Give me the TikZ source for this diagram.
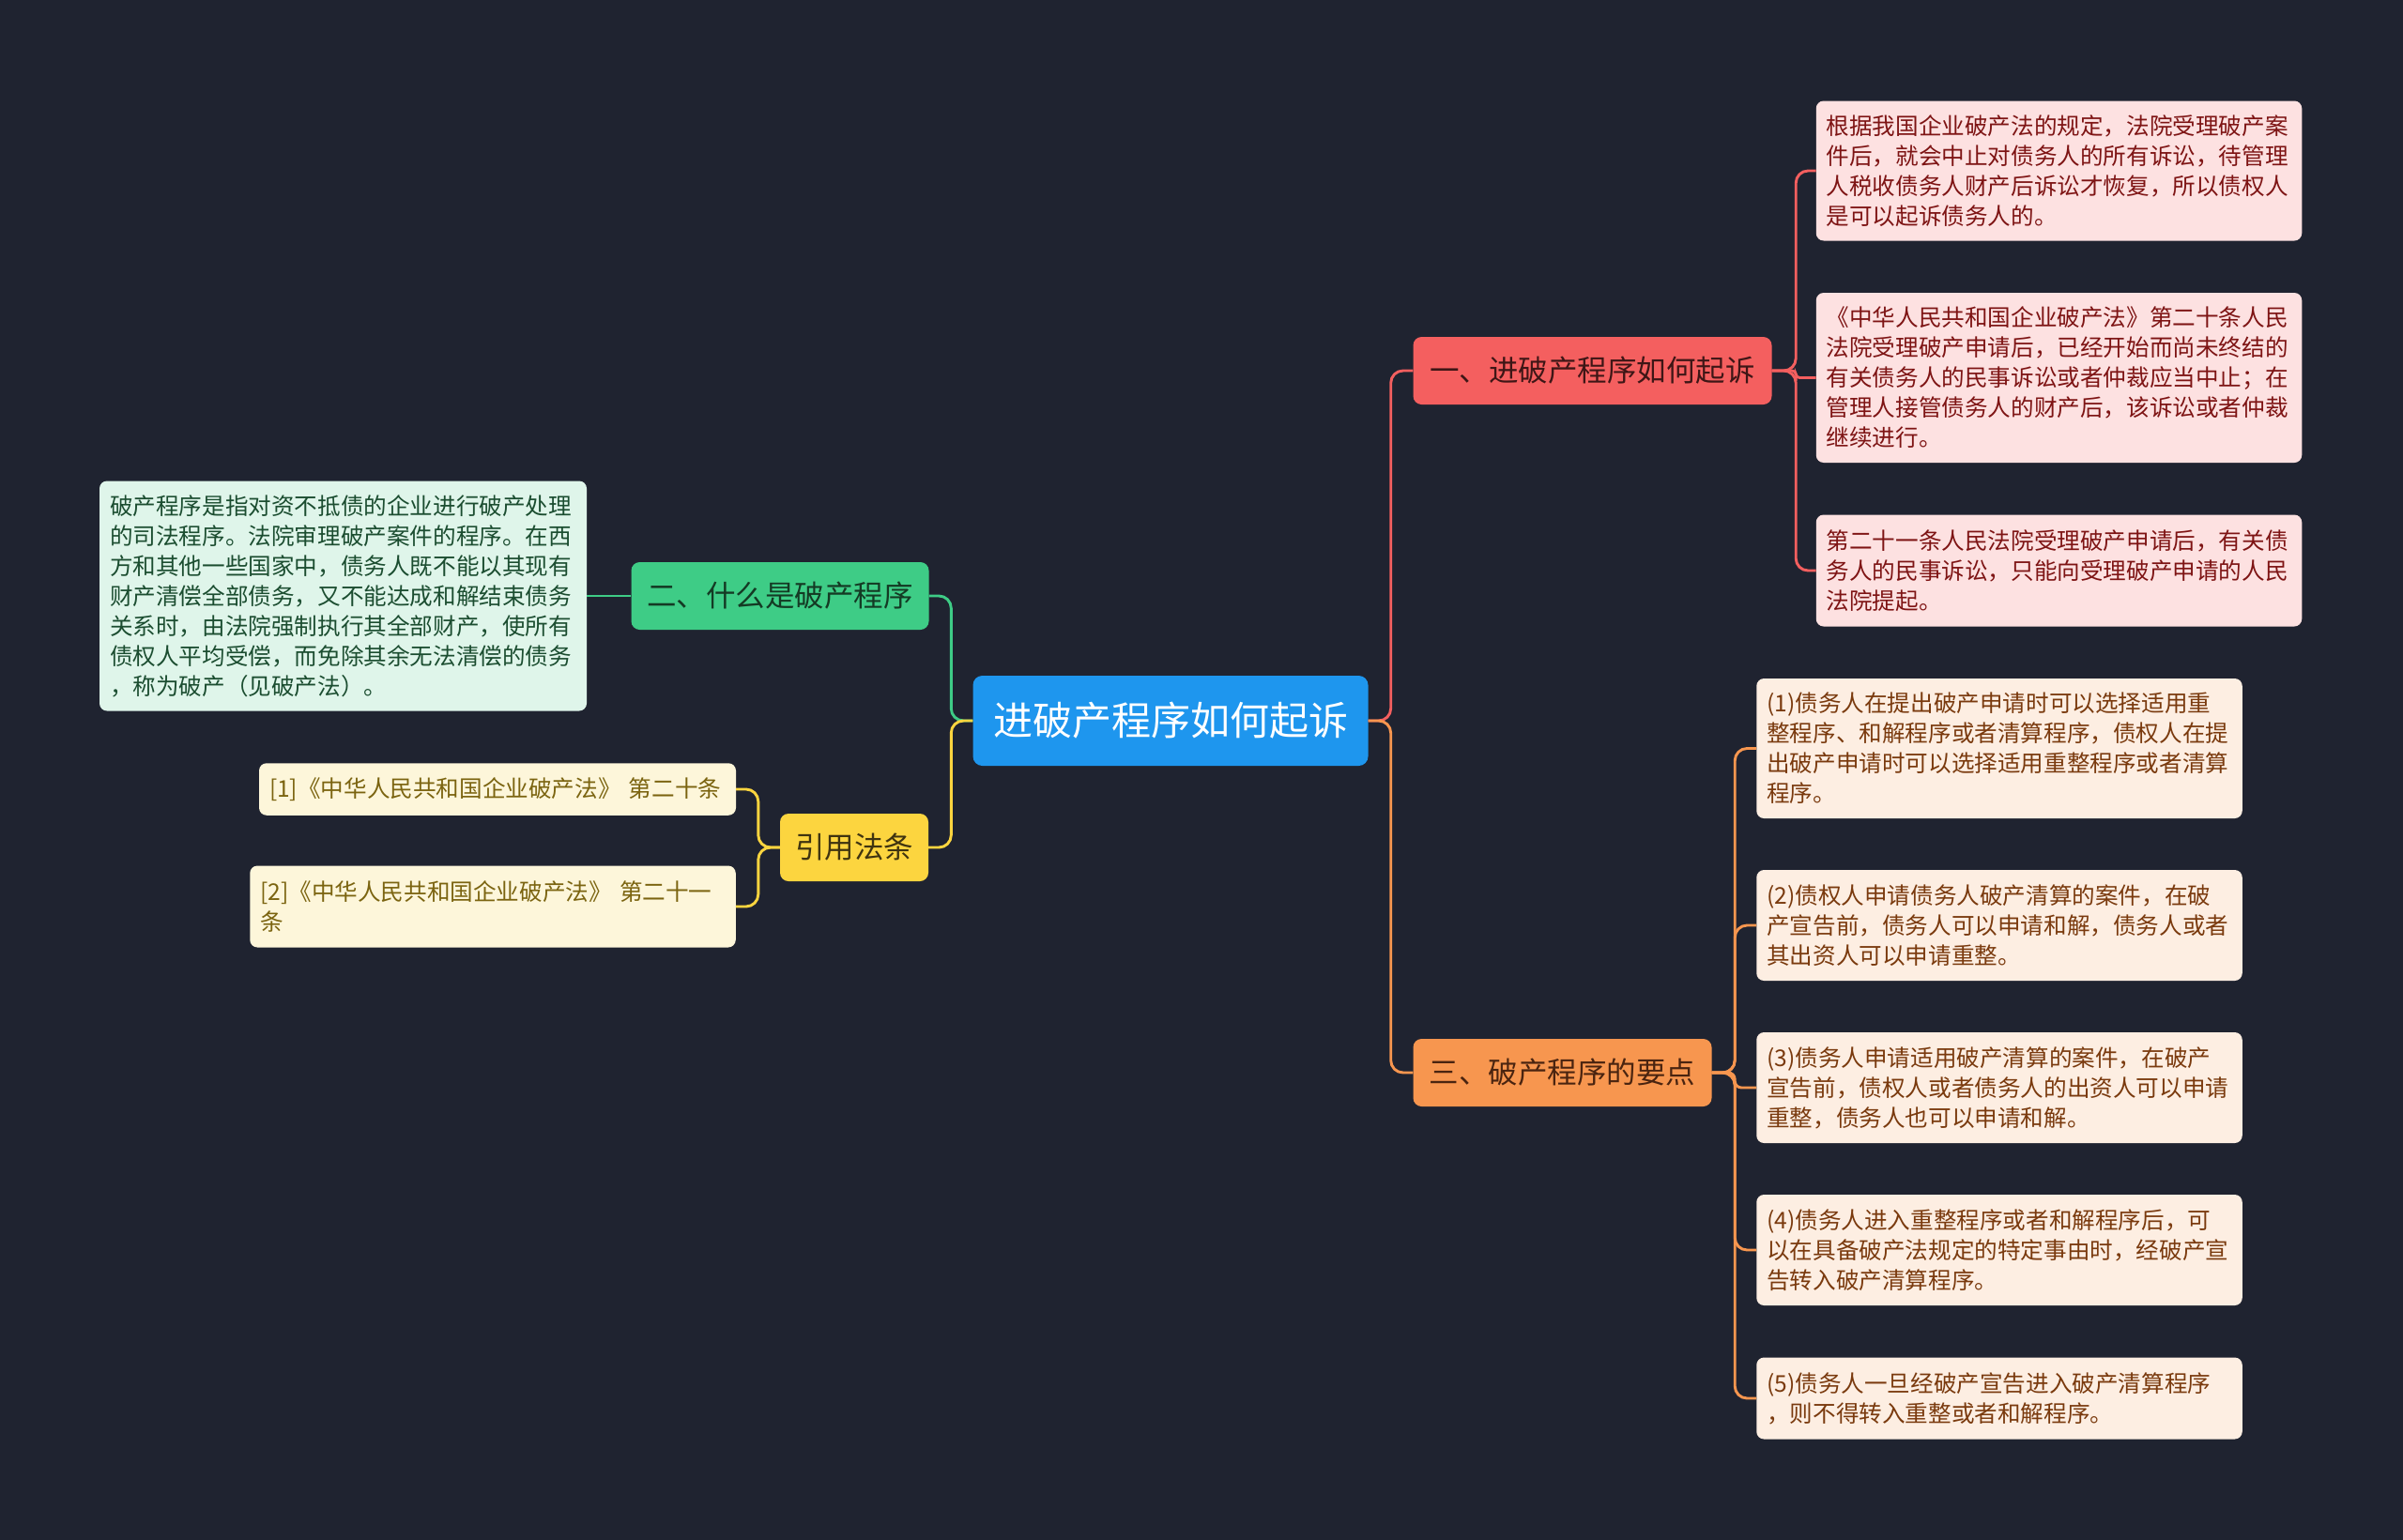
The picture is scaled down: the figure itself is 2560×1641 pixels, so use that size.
\documentclass[tikz,border=0pt]{standalone}
\usepackage{fontspec}
\setmainfont{Noto Sans CJK SC}
\definecolor{bg}{HTML}{1F2330}
\definecolor{rootc}{HTML}{1E96EE}
\definecolor{redc}{HTML}{F45F5F}
\definecolor{redleaf}{HTML}{FDE1E1}
\definecolor{redtext}{HTML}{7E1414}
\definecolor{redbtext}{HTML}{3E1616}
\definecolor{orc}{HTML}{F7964F}
\definecolor{orleaf}{HTML}{FDEEE2}
\definecolor{ortext}{HTML}{7A3A0E}
\definecolor{orbtext}{HTML}{4A2410}
\definecolor{grc}{HTML}{3ECC86}
\definecolor{grleaf}{HTML}{DFF5EA}
\definecolor{grtext}{HTML}{1B4D30}
\definecolor{grbtext}{HTML}{143A24}
\definecolor{yec}{HTML}{FCD53F}
\definecolor{yeleaf}{HTML}{FDF6DA}
\definecolor{yetext}{HTML}{7B6410}
\definecolor{yebtext}{HTML}{3F3410}
\begin{document}
\begin{tikzpicture}[x=1pt,y=-1pt,
  rootbox/.style={fill=rootc, text=white, rounded corners=10pt, inner sep=0pt,
    font=\fontsize{42}{48}\selectfont},
  branchbox/.style={rounded corners=9pt, inner sep=0pt, minimum height=72pt,
    font=\fontsize{31.5}{38}\selectfont},
  leafbox/.style={rounded corners=8pt, inner xsep=11pt, inner ysep=0pt, align=left,
    font=\fontsize{24.6}{32}\selectfont},
  conn/.style={line width=2.9pt, rounded corners=13pt}
]
\useasboundingbox (0,0) rectangle (2560,1641);
\fill[bg] (0,0) rectangle (2560,1641);

% root
\node[rootbox, minimum width=421pt, minimum height=96pt] (root) at (1247,768) {进破产程序如何起诉};

% branches
\node[branchbox, fill=redc, text=redbtext, minimum width=382pt] (b1) at (1696.5,395) {一、进破产程序如何起诉};
\node[branchbox, fill=orc, text=orbtext, minimum width=318pt] (b3) at (1664.5,1143) {三、破产程序的要点};
\node[branchbox, fill=grc, text=grbtext, minimum width=317pt] (b2) at (831,635) {二、什么是破产程序};
\node[branchbox, fill=yec, text=yebtext, minimum width=158pt] (b4) at (910,903) {引用法条};

% red leaves
\node[leafbox, fill=redleaf, text=redtext, text width=495.5pt, minimum height=149pt] (r1) at (2193.5,182) {根据我国企业破产法的规定，法院受理破产案\\件后，就会中止对债务人的所有诉讼，待管理\\人税收债务人财产后诉讼才恢复，所以债权人\\是可以起诉债务人的。};
\node[leafbox, fill=redleaf, text=redtext, text width=495.5pt, minimum height=181pt] (r2) at (2193.5,402.5) {《中华人民共和国企业破产法》第二十条人民\\法院受理破产申请后，已经开始而尚未终结的\\有关债务人的民事诉讼或者仲裁应当中止；在\\管理人接管债务人的财产后，该诉讼或者仲裁\\继续进行。};
\node[leafbox, fill=redleaf, text=redtext, text width=495.5pt, minimum height=119pt] (r3) at (2193.5,608) {第二十一条人民法院受理破产申请后，有关债\\务人的民事诉讼，只能向受理破产申请的人民\\法院提起。};

% orange leaves
\node[leafbox, fill=orleaf, text=ortext, text width=495.5pt, minimum height=149pt] (o1) at (2130,797.5) {(1)债务人在提出破产申请时可以选择适用重\\整程序、和解程序或者清算程序，债权人在提\\出破产申请时可以选择适用重整程序或者清算\\程序。};
\node[leafbox, fill=orleaf, text=ortext, text width=495.5pt, minimum height=118pt] (o2) at (2130,986) {(2)债权人申请债务人破产清算的案件，在破\\产宣告前，债务人可以申请和解，债务人或者\\其出资人可以申请重整。};
\node[leafbox, fill=orleaf, text=ortext, text width=495.5pt, minimum height=118pt] (o3) at (2130,1159) {(3)债务人申请适用破产清算的案件，在破产\\宣告前，债权人或者债务人的出资人可以申请\\重整，债务人也可以申请和解。};
\node[leafbox, fill=orleaf, text=ortext, text width=495.5pt, minimum height=118pt] (o4) at (2130,1332) {(4)债务人进入重整程序或者和解程序后，可\\以在具备破产法规定的特定事由时，经破产宣\\告转入破产清算程序。};
\node[leafbox, fill=orleaf, text=ortext, text width=495.5pt, minimum height=87pt] (o5) at (2130,1490) {(5)债务人一旦经破产宣告进入破产清算程序\\，则不得转入重整或者和解程序。};

% green leaf
\node[leafbox, fill=grleaf, text=grtext, text width=497pt, minimum height=245pt] (g1) at (365.5,635) {破产程序是指对资不抵债的企业进行破产处理\\的司法程序。法院审理破产案件的程序。在西\\方和其他一些国家中，债务人既不能以其现有\\财产清偿全部债务，又不能达成和解结束债务\\关系时，由法院强制执行其全部财产，使所有\\债权人平均受偿，而免除其余无法清偿的债务\\，称为破产（见破产法）。};

% yellow leaves
\node[leafbox, fill=yeleaf, text=yetext, text width=486pt, minimum height=55.5pt] (y1) at (530,841) {[1]《中华人民共和国企业破产法》~第二十条};
\node[leafbox, fill=yeleaf, text=yetext, text width=495.5pt, minimum height=87pt] (y2) at (525,966) {[2]《中华人民共和国企业破产法》~第二十一\\条};

% connectors root -> branches
\draw[conn, draw=redc] (root.east) -- ++(24,0) |- (b1.west);
\draw[conn, draw=orc] (root.east) -- ++(24,0) |- (b3.west);
\draw[conn, draw=grc] (root.west) -- ++(-23,0) |- (b2.east);
\draw[conn, draw=yec] (root.west) -- ++(-23,0) |- (b4.east);

% branch -> leaves
\foreach \n in {r1,r3} \draw[conn, draw=redc] (b1.east) -- ++(25.5,0) |- (\n.west);
\draw[conn, draw=redc, rounded corners=4pt] (b1.east) -- ++(25.5,0) |- (r2.west);
\foreach \n in {o1,o2,o4,o5} \draw[conn, draw=orc] (b3.east) -- ++(24.5,0) |- (\n.west);
\draw[conn, draw=orc, rounded corners=7pt] (b3.east) -- ++(24.5,0) |- (o3.west);
\draw[conn, draw=grc] (b2.west) -- (g1.east);
\foreach \n in {y1,y2} \draw[conn, draw=yec] (b4.west) -- ++(-23,0) |- (\n.east);
\end{tikzpicture}
\end{document}
